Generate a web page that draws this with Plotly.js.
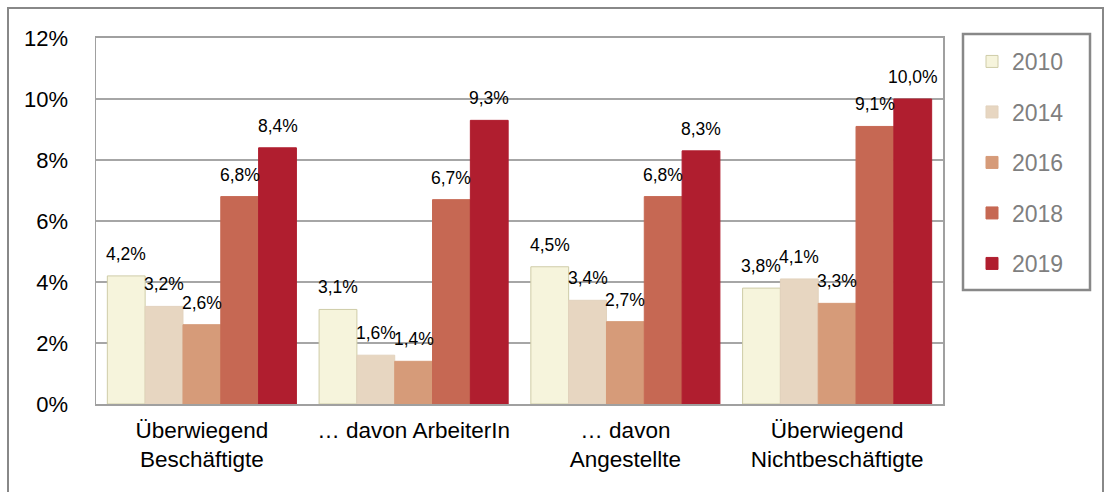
<!DOCTYPE html>
<html>
<head>
<meta charset="utf-8">
<script src="https://cdn.plot.ly/plotly-3.0.1.min.js"></script>
<style>html,body{margin:0;padding:0;background:#fff;}#chart{width:1107px;height:492px;}</style>
</head>
<body>
<div id="chart"></div>
<script>
var categories = ["Überwiegend<br>Beschäftigte", "… davon ArbeiterIn", "… davon<br>Angestellte", "Überwiegend<br>Nichtbeschäftigte"];
var years = ["2010", "2014", "2016", "2018", "2019"];
var v2010 = [4.2, 3.1, 4.5, 3.8];
var v2014 = [3.2, 1.6, 3.4, 4.1];
var v2016 = [2.6, 1.4, 2.7, 3.3];
var v2018 = [6.8, 6.7, 6.8, 9.1];
var v2019 = [8.4, 9.3, 8.3, 10.0];
var yTicks = [0, 2, 4, 6, 8, 10, 12];
var yTickText = ["0%", "2%", "4%", "6%", "8%", "10%", "12%"];

var series = [v2010, v2014, v2016, v2018, v2019];
var fills = ["#f6f4dc", "#e7d6c1", "#d69b79", "#c66853", "#b01e2f"];
var outlines = ["#cfcca8", "#e2d2bd", "#d69b79", "#c66853", "#b01e2f"];

var W = 1107, H = 492;
var margin = {l: 96, r: 164, t: 38, b: 88};
var plotW = W - margin.l - margin.r;
var plotH = H - margin.t - margin.b;
var bargap = 0.107;
var barW = plotW / categories.length * (1 - bargap) / series.length;

var font = "'Liberation Sans', Arial, sans-serif";

var traces = series.map(function (vals, j) {
  return {
    type: "bar",
    name: years[j],
    legendgroup: years[j],
    x: categories,
    y: vals,
    marker: {color: fills[j], line: {color: outlines[j], width: 1}},
    hoverinfo: "skip"
  };
});

var annotations = [];
series.forEach(function (vals, j) {
  vals.forEach(function (v, i) {
    annotations.push({
      x: categories[i], y: v, xref: "x", yref: "y",
      text: v.toFixed(1).replace(".", ",") + "%",
      showarrow: false, xanchor: "center", yanchor: "bottom",
      xshift: (j - (series.length - 1) / 2) * barW, yshift: 10,
      font: {family: font, size: 17.5, color: "#000"}
    });
  });
});

function px(x) { return (x - margin.l) / plotW; }
function py(y) { return (H - margin.b - y) / plotH; }

var layout = {
  width: W, height: H,
  margin: margin,
  paper_bgcolor: "#fff", plot_bgcolor: "#fff",
  barmode: "group", bargap: bargap, bargroupgap: 0,
  separators: ",.",
  font: {family: font, color: "#000"},
  showlegend: true,
  legend: {
    x: px(972), xanchor: "left", y: py(40), yanchor: "top",
    font: {family: font, size: 23, color: "#7f7f7f"},
    traceorder: "grouped", tracegroupgap: 17.6,
    bgcolor: "rgba(0,0,0,0)", borderwidth: 0
  },
  xaxis: {
    type: "category",
    showline: true, linecolor: "#a0a0a0", linewidth: 2, mirror: true,
    ticks: "", showgrid: false, ticklabelstandoff: 5,
    tickfont: {family: font, size: 22.5, color: "#000"}
  },
  yaxis: {
    range: [0, 12], tickvals: yTicks, ticktext: yTickText, tickmode: "array",
    showline: true, linecolor: "#a0a0a0", linewidth: 1.5, mirror: true,
    showgrid: true, gridcolor: "#a6a6a6", gridwidth: 1.5,
    zeroline: false, ticks: "", ticklabelstandoff: 22,
    tickfont: {family: font, size: 22, color: "#000"}
  },
  annotations: annotations,
  shapes: [
    {type: "rect", xref: "paper", yref: "paper", x0: px(8), x1: px(1103), y0: py(500), y1: py(8),
     line: {color: "#888", width: 2}, fillcolor: "rgba(0,0,0,0)", layer: "below"},
    {type: "rect", xref: "paper", yref: "paper", x0: px(963), x1: px(1090), y0: py(290), y1: py(34),
     line: {color: "#888", width: 2.5}, fillcolor: "rgba(0,0,0,0)", layer: "below"}
  ]
};

Plotly.newPlot("chart", traces, layout, {staticPlot: true, displayModeBar: false});
</script>
</body>
</html>
